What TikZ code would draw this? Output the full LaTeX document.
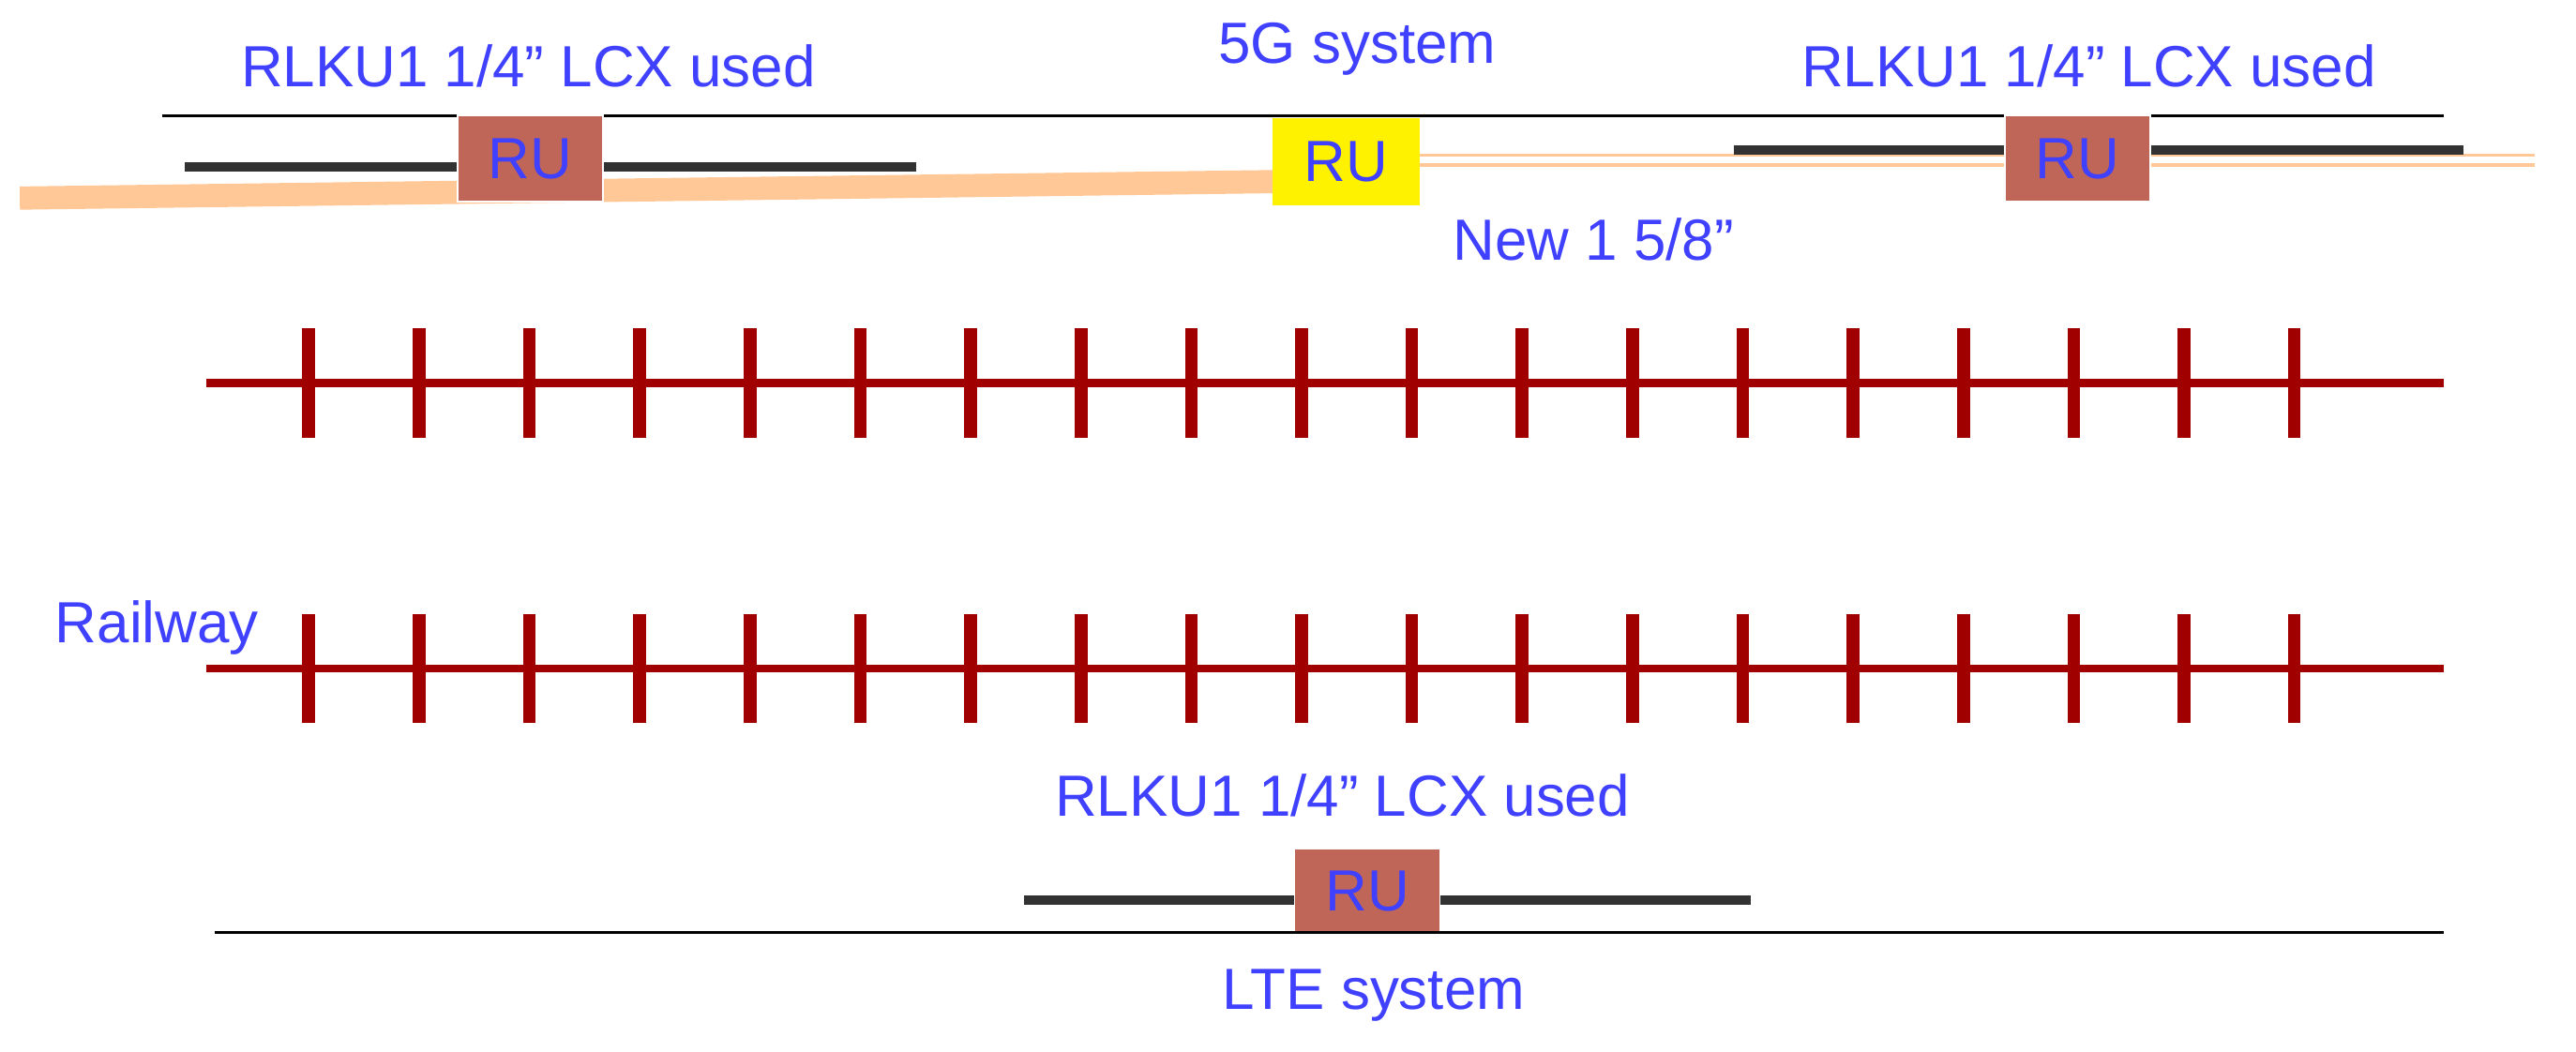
\documentclass[tikz,border=0pt]{standalone}
\usepackage{fontspec}
\setmainfont{Liberation Sans}

\definecolor{txtblue}{RGB}{64,64,255}
\definecolor{rubrown}{RGB}{192,102,88}
\definecolor{railred}{RGB}{160,0,0}
\definecolor{feeder}{RGB}{255,200,150}
\definecolor{cable}{RGB}{50,50,50}

\tikzset{
  lbl/.style={text=txtblue, font=\fontsize{10}{12}\selectfont, inner sep=0pt},
  ru/.style={fill=rubrown, draw=white, line width=0.3pt, minimum width=0.88cm, minimum height=0.52cm, text=txtblue, font=\fontsize{10}{12}\selectfont, inner sep=0pt},
  lcx/.style={cable, line width=1.6pt},
  thin/.style={black, line width=0.5pt},
  rail/.style={railred, line width=1.4pt},
  tie/.style={railred, line width=2.2pt}
}

\begin{document}
\begin{tikzpicture}[x=0.01cm,y=0.01cm]
  \useasboundingbox (0,0) rectangle (1560,637);

  % labels
  \node[lbl] (l1) at (320,597) {RLKU1 1/4” LCX used};
  \node[lbl] (l2) at (822,607) {5G system};
  \node[lbl] (l3) at (1265,597) {RLKU1 1/4” LCX used};
  \node[lbl] (l4) at (965,492) {New 1 5/8”};
  \node[lbl] (l5) at (95,257) {Railway};
  \node[lbl] (l6) at (813,155) {RLKU1 1/4” LCX used};
  \node[lbl] (l7) at (832,34) {LTE system};

  % 5G system
  \coordinate (t1) at (98,567);
  \coordinate (t2) at (668,567);
  \coordinate (t3) at (1480,567);
  \draw[thin] (t1) -- (t2);
  \draw[thin] (t2) -- (t3);
  \coordinate (f1) at (12,517);
  \coordinate (f2) at (772,527);
  \draw[feeder, line width=4pt] (f1) -- (f2);
  \node[ru, fill=yellow, draw=yellow] (ru2) at (815,539) {RU};
  \coordinate (f3) at (1535,543);
  \coordinate (f4) at (1535,537);
  \draw[feeder, line width=0.6pt] (ru2.east |- f3) -- (f3);
  \draw[feeder, line width=0.6pt] (ru2.east |- f4) -- (f4);
  \coordinate (a1) at (112,536);
  \coordinate (a2) at (555,536);
  \draw[lcx] (a1) -- (a2);
  \node[ru] (ru1) at (321,541) {RU};
  \coordinate (b1) at (1050,546);
  \coordinate (b2) at (1492,546);
  \draw[lcx] (b1) -- (b2);
  \node[ru] (ru3) at (1258,541) {RU};

  % railway
  \coordinate (r1) at (125,405);
  \coordinate (r2) at (1480,405);
  \coordinate (r3) at (125,232);
  \coordinate (r4) at (1480,232);
  \draw[rail] (r1) -- (r2);
  \draw[rail] (r3) -- (r4);
  \foreach \i in {0,...,18} {
    \draw[tie] (187+\i*66.8,372) -- ++(0,66);
    \draw[tie] (187+\i*66.8,199) -- ++(0,66);
  }

  % LTE system
  \coordinate (c1) at (620,92);
  \coordinate (c2) at (1060,92);
  \draw[lcx] (c1) -- (c2);
  \node[ru] (ru4) at (828,97) {RU};
  \coordinate (d1) at (130,72);
  \coordinate (d2) at (1480,72);
  \draw[thin] (d1) -- (d2);
\end{tikzpicture}
\end{document}
